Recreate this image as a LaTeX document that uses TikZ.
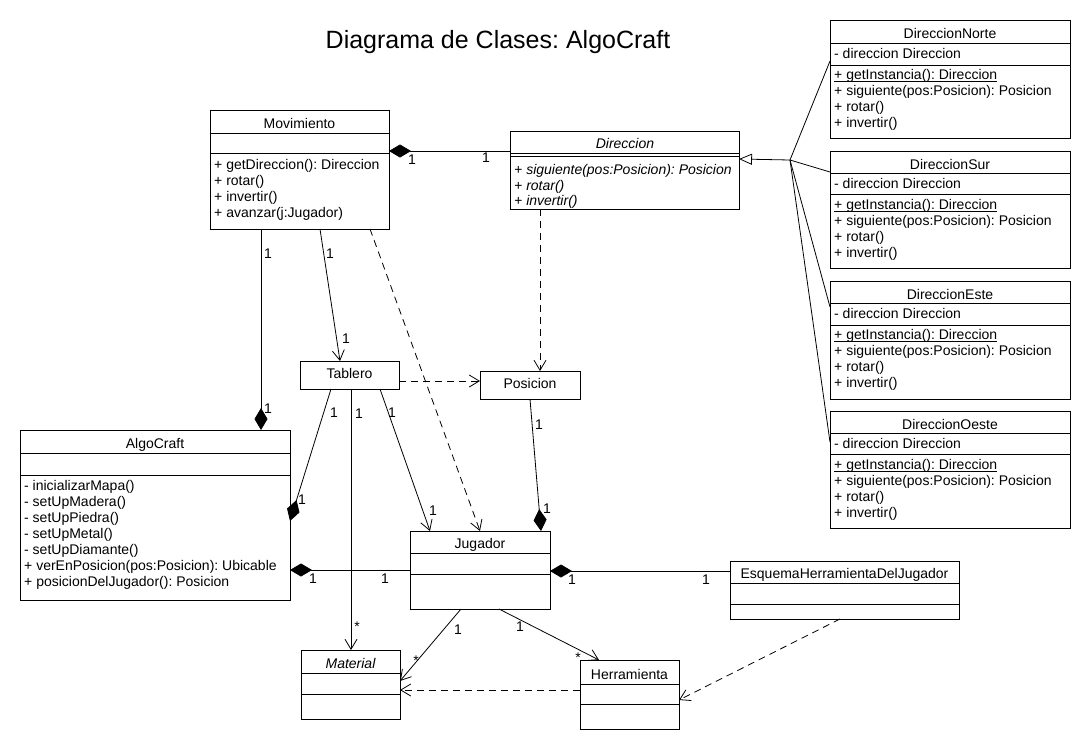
\documentclass[tikz,border=0pt]{standalone}
\usepackage{fontspec}
\setmainfont{Liberation Sans}
\usetikzlibrary{arrows.meta,calc}
\frenchspacing
\newcommand{\mlist}[5]{\foreach \txt [count=\idx from 0] in {#5}{\node[mem] (#1\idx) at ({#2},{#3+#4*\idx}) {\txt};}}
\newcommand{\compline}[2]{\draw[cline] ($(#1.north west)+(0,#2)$) -- ($(#1.north east)+(0,#2)$);}
\newcommand{\ulin}[1]{\setbox0\hbox{#1}\rlap{\rule[-2pt]{\wd0}{0.9pt}}\box0}
\tikzset{
 cls/.style={draw, line width=0.9pt, anchor=north west, inner sep=0pt, outer sep=0pt},
 cline/.style={line width=0.9pt},
 mem/.style={anchor=base west, inner sep=0pt, font=\fontsize{14}{16}\selectfont},
 nm/.style={anchor=base, inner sep=0pt, font=\fontsize{14}{16}\selectfont},
 lbl/.style={inner sep=0pt, font=\fontsize{14}{16}\selectfont},
 conn/.style={line width=0.8pt},
 dep/.style={conn, dash pattern=on 7pt off 5pt},
 comp/.style={conn, {Diamond[length=22pt,width=13pt]}-},
 nav/.style={conn, -{Straight Barb[length=10pt,width=12pt]}},
 depnav/.style={dep, -{Straight Barb[length=10pt,width=12pt]}},
 gen/.style={conn, {Triangle[open,length=13pt,width=11pt,fill=white]}-},
}
\begin{document}
\begin{tikzpicture}[x=1pt,y=-1pt]
\fill[white] (0,0) rectangle (1090,750);
\useasboundingbox (0,0) rectangle (1090,750);

\node[font=\fontsize{25}{30}\selectfont, inner sep=0pt] (title) at (498,42) {Diagrama de Clases: AlgoCraft};

% boxes
\node[cls, minimum width=179pt, minimum height=119pt] (mov) at (210,110) {};
\node[cls, minimum width=229pt, minimum height=78pt] (dir) at (510,131) {};
\node[cls, minimum width=240pt, minimum height=118pt] (norte) at (830,20) {};
\node[cls, minimum width=240pt, minimum height=117pt] (sur) at (830,151) {};
\node[cls, minimum width=240pt, minimum height=118pt] (este) at (830,281) {};
\node[cls, minimum width=240pt, minimum height=117pt] (oeste) at (830,411) {};
\node[cls, minimum width=99pt, minimum height=28pt] (tab) at (300,361) {};
\node[cls, minimum width=100pt, minimum height=28pt] (pos) at (480,371) {};
\node[cls, minimum width=270pt, minimum height=170pt] (alg) at (20,430) {};
\node[cls, minimum width=140pt, minimum height=78pt] (jug) at (410,531) {};
\node[cls, minimum width=229pt, minimum height=58pt] (esq) at (730,561) {};
\node[cls, minimum width=99pt, minimum height=69pt] (mat) at (301,650) {};
\node[cls, minimum width=99pt, minimum height=69pt] (her) at (580,660) {};

% compartments
\compline{mov}{23}\compline{mov}{43}
\compline{dir}{22}\compline{dir}{25.5}
\compline{norte}{23}\compline{norte}{45}
\compline{sur}{22}\compline{sur}{43}
\compline{este}{22}\compline{este}{44}
\compline{oeste}{22}\compline{oeste}{43}
\compline{alg}{23}\compline{alg}{45}
\compline{jug}{22}\compline{jug}{43}
\compline{esq}{22}\compline{esq}{43}
\compline{mat}{23}\compline{mat}{44}
\compline{her}{24}\compline{her}{44}

% names
\node[nm] (mov-n) at (299.5,128.5) {Movimiento};
\node[nm] (dir-n) at (625,148.5) {\itshape Direccion};
\node[nm] (norte-n) at (950,38.5) {DireccionNorte};
\node[nm] (sur-n) at (950,169.5) {DireccionSur};
\node[nm] (este-n) at (950,299.5) {DireccionEste};
\node[nm] (oeste-n) at (950,429.5) {DireccionOeste};
\node[nm] (alg-n) at (155,448) {AlgoCraft};
\node[nm] (tab-n) at (349.5,378.5) {Tablero};
\node[nm] (pos-n) at (530,388.5) {Posicion};
\node[nm] (jug-n) at (480,548) {Jugador};
\node[nm] (esq-n) at (844.5,578) {EsquemaHerramientaDelJugador};
\node[nm] (mat-n) at (350.5,668.5) {\itshape Material};
\node[nm] (her-n) at (629.5,679) {Herramienta};

% members
\mlist{mov-m}{214}{169.5}{16}{{+ getDireccion(): Direccion},{+ rotar()},{+ invertir()},{+ avanzar(j:Jugador)}}
\mlist{dir-m}{514}{174.5}{15.5}{{\itshape + siguiente(pos:Posicion): Posicion},{\itshape + rotar()},{\itshape + invertir()}}
\node[mem] (norte-a) at (834,58.8) {- direccion Direccion};
\mlist{norte-m}{834}{79.5}{16}{{\ulin{+ getInstancia(): Direccion}},{+ siguiente(pos:Posicion): Posicion},{+ rotar()},{+ invertir()}}
\node[mem] (sur-a) at (834,188.5) {- direccion Direccion};
\mlist{sur-m}{834}{209.5}{16}{{\ulin{+ getInstancia(): Direccion}},{+ siguiente(pos:Posicion): Posicion},{+ rotar()},{+ invertir()}}
\node[mem] (este-a) at (834,318.5) {- direccion Direccion};
\mlist{este-m}{834}{339.5}{16}{{\ulin{+ getInstancia(): Direccion}},{+ siguiente(pos:Posicion): Posicion},{+ rotar()},{+ invertir()}}
\node[mem] (oeste-a) at (834,448.5) {- direccion Direccion};
\mlist{oeste-m}{834}{469.5}{16}{{\ulin{+ getInstancia(): Direccion}},{+ siguiente(pos:Posicion): Posicion},{+ rotar()},{+ invertir()}}
\mlist{alg-m}{24}{490.2}{16}{{- inicializarMapa()},{- setUpMadera()},{- setUpPiedra()},{- setUpMetal()},{- setUpDiamante()},{+ verEnPosicion(pos:Posicion): Ubicable},{+ posicionDelJugador(): Posicion}}

% generalization
\coordinate (gj) at (790,160);
\draw[gen] ($(dir.north east)+(0,28)$) -- (gj);
\draw[conn] (gj) -- ($(norte.north west)+(0,41)$);
\draw[conn] (gj) -- ($(sur.north west)+(0,21)$);
\draw[conn] (gj) -- ($(este.north west)+(0,26)$);
\draw[conn] (gj) -- ($(oeste.north west)+(0,31)$);

% compositions
\draw[comp] ($(mov.north east)+(0,41)$) -- ($(dir.north west)+(0,20)$);
\draw[comp] ($(alg.north west)+(241,0)$) -- ($(mov.south west)+(51,0)$);
\draw[comp] ($(alg.north east)+(0,91)$) -- ($(tab.south west)+(31,0)$);
\draw[comp] ($(alg.north east)+(0,140)$) -- ($(jug.north west)+(0,39)$);
\draw[comp] ($(jug.north west)+(131,0)$) -- ($(pos.south west)+(50,0)$);
\draw[comp] ($(jug.north east)+(0,40)$) -- ($(esq.north west)+(0,10)$);

% navigable associations
\draw[nav] ($(mov.south west)+(110,0)$) -- ($(tab.north west)+(40,0)$);
\draw[nav] ($(tab.south west)+(80,0)$) -- ($(jug.north west)+(20,0)$);
\draw[nav] ($(tab.south west)+(51,0)$) -- ($(mat.north west)+(50,0)$);
\draw[nav] ($(jug.south west)+(51,0)$) -- ($(mat.north east)+(0,31)$);
\draw[nav] ($(jug.south west)+(89,0)$) -- ($(her.north west)+(19,0)$);

% dependencies
\draw[depnav] ($(mov.south west)+(160,0)$) -- ($(jug.north west)+(70,0)$);
\draw[depnav] ($(dir.south west)+(30,0)$) -- ($(pos.north west)+(60,0)$);
\draw[depnav] ($(tab.north east)+(0,20)$) -- ($(pos.north west)+(0,10)$);
\draw[depnav] ($(her.north west)+(0,30)$) -- ($(mat.north east)+(0,40)$);
\draw[depnav] ($(esq.south west)+(110,0)$) -- ($(her.north east)+(0,40)$);

% multiplicities
\node[lbl] (L1) at (268,254) {1};
\node[lbl] (L2) at (268,409) {1};
\node[lbl] (L3) at (330,254) {1};
\node[lbl] (L4) at (346,339) {1};
\node[lbl] (L5) at (412,160) {1};
\node[lbl] (L6) at (486,158) {1};
\node[lbl] (L7) at (334,413) {1};
\node[lbl] (L8) at (302,500) {1};
\node[lbl] (L9) at (359,414) {1};
\node[lbl] (L10) at (357,627) {*};
\node[lbl] (L11) at (392,413) {1};
\node[lbl] (L12) at (433,511) {1};
\node[lbl] (L13) at (539,425) {1};
\node[lbl] (L14) at (547,509) {1};
\node[lbl] (L15) at (313,579) {1};
\node[lbl] (L16) at (385,579) {1};
\node[lbl] (L17) at (572,580) {1};
\node[lbl] (L18) at (706,580) {1};
\node[lbl] (L19) at (458,630) {1};
\node[lbl] (L20) at (416,661) {*};
\node[lbl] (L21) at (520,627) {1};
\node[lbl] (L22) at (578,658) {*};
\end{tikzpicture}
\end{document}
